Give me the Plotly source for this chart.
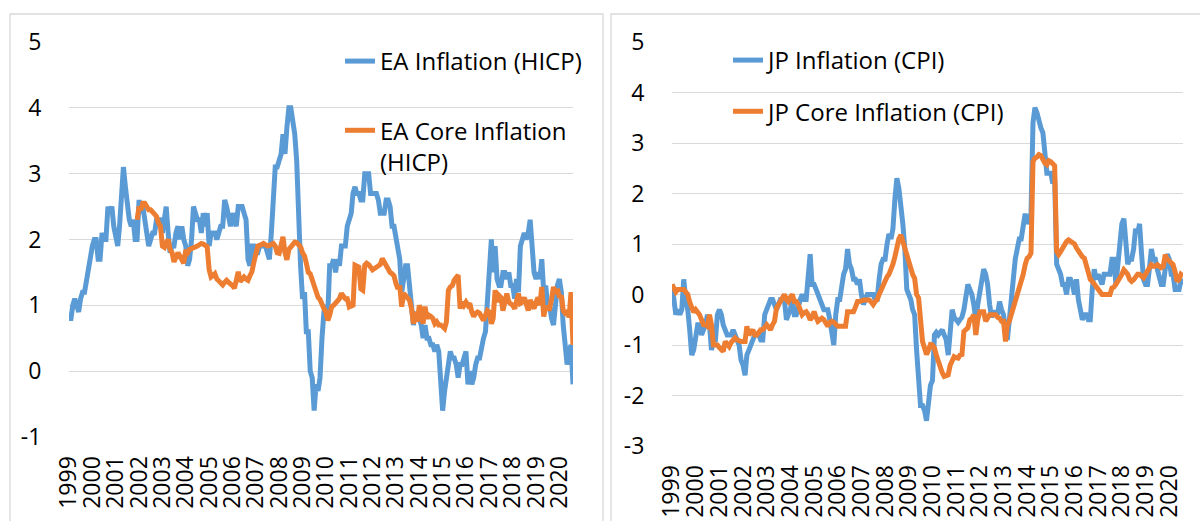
import pandas as pd
import plotly.graph_objects as go

# ---------------- data (monthly, Jan 1999 - Aug 2020) ----------------
years = [str(y) for y in range(1999, 2021)]

ea_hicp = [
    0.8, 0.8, 1.0, 1.1, 1.0, 0.9, 1.1, 1.2, 1.2, 1.4, 1.5, 1.7,          # 1999
    1.9, 2.0, 2.0, 1.7, 1.7, 2.1, 2.0, 2.0, 2.5, 2.4, 2.5, 2.2,          # 2000
    2.0, 1.9, 2.2, 2.7, 3.1, 2.8, 2.5, 2.3, 2.2, 2.3, 2.0, 2.0,          # 2001
    2.6, 2.4, 2.5, 2.3, 2.0, 1.9, 2.0, 2.1, 2.1, 2.3, 2.3, 2.3,          # 2002
    2.1, 2.4, 2.5, 2.1, 1.8, 1.9, 1.9, 2.1, 2.2, 2.0, 2.2, 2.0,          # 2003
    1.9, 1.6, 1.7, 2.0, 2.5, 2.4, 2.3, 2.3, 2.1, 2.4, 2.2, 2.4,          # 2004
    1.9, 2.1, 2.1, 2.1, 2.0, 2.1, 2.2, 2.2, 2.6, 2.5, 2.3, 2.2,          # 2005
    2.4, 2.3, 2.2, 2.5, 2.5, 2.5, 2.4, 2.3, 1.7, 1.6, 1.9, 1.9,          # 2006
    1.8, 1.8, 1.9, 1.9, 1.9, 1.9, 1.8, 1.7, 2.1, 2.6, 3.1, 3.1,          # 2007
    3.2, 3.3, 3.6, 3.3, 3.7, 4.0, 4.0, 3.8, 3.6, 3.2, 2.1, 1.6,          # 2008
    1.1, 1.2, 0.6, 0.6, 0.0, -0.1, -0.6, -0.2, -0.3, -0.1, 0.5, 0.9,     # 2009
    1.0, 0.9, 1.6, 1.6, 1.7, 1.5, 1.7, 1.6, 1.9, 1.9, 1.9, 2.2,          # 2010
    2.3, 2.4, 2.7, 2.8, 2.7, 2.7, 2.6, 2.6, 3.0, 3.0, 3.0, 2.7,          # 2011
    2.7, 2.7, 2.7, 2.6, 2.4, 2.4, 2.4, 2.6, 2.6, 2.5, 2.2, 2.2,          # 2012
    2.0, 1.8, 1.7, 1.2, 1.4, 1.6, 1.6, 1.3, 1.1, 0.7, 0.9, 0.8,          # 2013
    0.8, 0.7, 0.5, 0.7, 0.5, 0.5, 0.4, 0.4, 0.3, 0.4, 0.3, -0.2,         # 2014
    -0.6, -0.3, -0.1, 0.0, 0.3, 0.2, 0.2, 0.1, -0.1, 0.1, 0.1, 0.2,      # 2015
    0.3, -0.2, 0.0, -0.2, -0.1, 0.1, 0.2, 0.2, 0.4, 0.5, 0.6, 1.1,       # 2016
    1.7, 2.0, 1.5, 1.9, 1.4, 1.3, 1.3, 1.5, 1.5, 1.4, 1.5, 1.3,          # 2017
    1.3, 1.1, 1.4, 1.2, 1.9, 2.0, 2.1, 2.0, 2.1, 2.3, 1.9, 1.5,          # 2018
    1.4, 1.5, 1.4, 1.7, 1.2, 1.3, 1.0, 1.0, 0.8, 0.7, 1.0, 1.3,          # 2019
    1.4, 1.2, 0.7, 0.3, 0.1, 0.3, 0.4, -0.2,                             # 2020
]

# EA core starts Dec 2001
ea_core_start = "2001-12-01"
ea_core = [
    2.3,                                                                  # Dec 2001
    2.5, 2.45, 2.55, 2.55, 2.5, 2.45, 2.45, 2.42, 2.4, 2.35, 2.25, 2.2,  # 2002
    1.9, 1.88, 1.95, 2.0, 1.85, 1.8, 1.66, 1.75, 1.8, 1.75, 1.7, 1.64,   # 2003
    1.84, 1.8, 1.85, 1.86, 1.87, 1.88, 1.9, 1.92, 1.94, 1.93, 1.9, 1.89, # 2004
    1.54, 1.43, 1.45, 1.48, 1.4, 1.36, 1.32, 1.31, 1.35, 1.38, 1.35, 1.33,  # 2005
    1.3, 1.26, 1.4, 1.51, 1.36, 1.4, 1.43, 1.4, 1.38, 1.45, 1.51, 1.65,  # 2006
    1.79, 1.9, 1.91, 1.92, 1.94, 1.92, 1.9, 1.91, 1.92, 1.94, 1.9, 1.8,  # 2007
    1.79, 1.9, 2.04, 1.8, 1.69, 1.85, 1.89, 1.92, 1.96, 1.95, 1.92, 1.89,  # 2008
    1.8, 1.75, 1.64, 1.5, 1.48, 1.38, 1.3, 1.24, 1.12, 1.09, 1.0, 0.95,  # 2009
    0.9, 0.77, 0.85, 0.98, 1.0, 1.03, 1.05, 1.1, 1.18, 1.15, 1.1, 1.1,   # 2010
    0.98, 1.0, 0.98, 1.61, 1.6, 1.58, 1.25, 1.23, 1.61, 1.64, 1.62, 1.58,  # 2011
    1.54, 1.56, 1.58, 1.6, 1.62, 1.71, 1.65, 1.6, 1.54, 1.5, 1.48, 1.45,  # 2012
    1.33, 1.25, 1.3, 0.98, 1.18, 1.15, 1.1, 1.08, 0.95, 0.72, 0.9, 0.75,  # 2013
    1.0, 0.9, 0.72, 0.98, 0.8, 0.85, 0.83, 0.8, 0.72, 0.75, 0.7, 0.7,    # 2014
    0.68, 0.65, 0.75, 1.23, 1.28, 1.3, 1.38, 1.42, 1.46, 0.95, 1.05, 1.0,  # 2015
    1.05, 1.0, 1.03, 0.9, 0.83, 0.88, 0.9, 0.88, 0.8, 0.77, 0.85, 0.92,  # 2016
    0.9, 0.72, 0.8, 1.23, 1.05, 1.15, 1.12, 0.92, 1.05, 1.18, 1.05, 1.03,  # 2017
    1.0, 0.95, 1.05, 1.18, 1.03, 1.05, 1.12, 1.0, 0.92, 1.08, 1.0, 0.95,  # 2018
    1.05, 1.12, 1.0, 1.28, 0.83, 0.98, 0.95, 0.95, 1.1, 1.28, 1.18, 1.25,  # 2019
    1.12, 1.15, 0.92, 0.88, 0.9, 0.82, 1.2, 0.4,                         # 2020
]

jp_cpi = [
    0.2, -0.1, -0.4, -0.3, -0.4, -0.3, 0.3, -0.1, -0.3, -0.7, -1.2, -1.1,   # 1999
    -0.9, -0.6, -0.6, -0.8, -0.7, -0.6, -0.4, -0.6, -1.1, -0.9, -0.9, -0.4, # 2000
    -0.3, -0.4, -0.6, -0.7, -0.8, -0.8, -0.8, -0.7, -0.8, -0.9, -1.0, -1.3, # 2001
    -1.4, -1.6, -1.2, -1.1, -1.0, -0.9, -0.8, -0.8, -0.8, -0.9, -0.9, -0.4, # 2002
    -0.3, -0.2, -0.1, -0.1, -0.2, -0.3, -0.2, -0.1, -0.1, -0.1, -0.5, -0.4, # 2003
    -0.3, -0.1, -0.4, -0.4, -0.2, -0.1, 0.0, -0.1, -0.1, 0.5, 0.8, 0.2,     # 2004
    0.2, 0.1, 0.0, -0.1, -0.2, -0.3, -0.3, -0.3, -0.5, -0.7, -1.0, -0.4,    # 2005
    -0.1, -0.1, 0.2, 0.4, 0.5, 0.9, 0.6, 0.5, 0.3, 0.3, 0.2, 0.3,           # 2006
    0.0, -0.2, -0.1, 0.0, 0.0, 0.0, 0.0, -0.1, -0.1, 0.3, 0.6, 0.7,         # 2007
    0.7, 1.0, 1.2, 1.1, 1.3, 1.9, 2.3, 2.1, 1.8, 1.4, 0.9, 0.1,             # 2008
    0.0, -0.1, -0.3, -0.4, -1.1, -1.8, -2.2, -2.2, -2.3, -2.5, -2.0, -1.8,  # 2009
    -1.7, -0.8, -0.75, -0.8, -0.75, -0.7, -0.8, -0.9, -1.2, -0.6, -0.3, -0.45,  # 2010
    -0.5, -0.55, -0.5, -0.45, -0.3, 0.0, 0.2, 0.1, 0.0, -0.2, -0.5, -0.2,   # 2011
    0.0, 0.3, 0.5, 0.4, 0.2, -0.2, -0.45, -0.35, -0.35, -0.4, -0.14, -0.3,  # 2012
    -0.4, -0.7, -0.9, -0.5, 0.0, 0.5, 0.7, 0.9, 1.1, 1.1, 1.4, 1.6,         # 2013
    1.4, 1.5, 1.6, 3.4, 3.7, 3.6, 3.4, 3.3, 3.2, 2.9, 2.4, 2.4,             # 2014
    2.4, 2.2, 2.3, 0.6, 0.5, 0.4, 0.2, 0.2, 0.0, 0.3, 0.3, 0.2,             # 2015
    0.0, 0.3, -0.1, -0.3, -0.5, -0.4, -0.4, -0.5, -0.5, 0.1, 0.5, 0.3,      # 2016
    0.4, 0.3, 0.2, 0.4, 0.4, 0.4, 0.4, 0.7, 0.7, 0.2, 0.6, 1.0,             # 2017
    1.4, 1.5, 1.1, 0.6, 0.7, 0.7, 0.9, 1.3, 1.2, 1.4, 0.8, 0.3,             # 2018
    0.2, 0.2, 0.5, 0.9, 0.7, 0.7, 0.5, 0.3, 0.2, 0.2, 0.5, 0.8,             # 2019
    0.7, 0.4, 0.4, 0.1, 0.1, 0.1, 0.3, 0.2,                                 # 2020
]

jp_core = [
    0.2, 0.1, 0.05, 0.1, 0.1, 0.1, 0.1, 0.05, 0.0, -0.15, -0.3, -0.35,      # 1999
    -0.3, -0.35, -0.4, -0.5, -0.6, -0.6, -0.63, -0.4, -0.6, -1.0, -1.0, -1.0,  # 2000
    -1.05, -1.1, -1.13, -0.93, -1.0, -1.03, -0.95, -0.9, -0.86, -0.9, -0.93, -0.93,  # 2001
    -0.93, -0.93, -0.63, -0.8, -0.75, -0.7, -0.8, -0.8, -0.75, -0.7, -0.7, -0.65,  # 2002
    -0.6, -0.65, -0.7, -0.6, -0.53, -0.27, -0.2, -0.14, -0.05, 0.0, -0.1, -0.14,  # 2003
    -0.05, 0.0, -0.14, -0.14, -0.2, -0.3, -0.4, -0.36, -0.34, -0.4, -0.5, -0.45,  # 2004
    -0.34, -0.45, -0.53, -0.5, -0.47, -0.5, -0.55, -0.63, -0.55, -0.53, -0.55, -0.6,  # 2005
    -0.63, -0.63, -0.63, -0.63, -0.63, -0.34, -0.34, -0.34, -0.34, -0.25, -0.14, -0.14,  # 2006
    -0.12, -0.11, -0.11, -0.11, -0.11, -0.15, -0.2, -0.14, -0.1, 0.0, 0.09, 0.2,  # 2007
    0.3, 0.35, 0.4, 0.49, 0.6, 0.75, 0.99, 1.1, 1.18, 1.05, 0.9, 0.72,      # 2008
    0.6, 0.53, 0.4, 0.32, 0.0, -0.07, -0.5, -0.93, -1.06, -1.19, -1.1, -0.99,  # 2009
    -1.0, -1.06, -1.2, -1.33, -1.46, -1.55, -1.62, -1.6, -1.59, -1.4, -1.29, -1.23,  # 2010
    -1.25, -1.26, -1.2, -1.19, -0.73, -0.7, -0.66, -0.5, -0.47, -0.4, -0.8, -0.5,  # 2011
    -0.34, -0.34, -0.34, -0.53, -0.45, -0.4, -0.4, -0.4, -0.4, -0.45, -0.47, -0.53,  # 2012
    -0.53, -0.93, -0.6, -0.53, -0.4, -0.27, -0.2, -0.07, 0.1, 0.2, 0.4, 0.59,  # 2013
    0.72, 0.75, 0.82, 2.63, 2.7, 2.72, 2.77, 2.75, 2.67, 2.6, 2.57, 2.65,   # 2014
    2.63, 2.6, 2.55, 0.85, 0.79, 0.85, 0.92, 1.0, 1.05, 1.08, 1.05, 1.05,   # 2015
    1.0, 0.92, 0.85, 0.79, 0.75, 0.72, 0.6, 0.4, 0.3, 0.26, 0.2, 0.15,      # 2016
    0.09, 0.05, 0.0, 0.0, 0.0, 0.0, 0.0, 0.13, 0.15, 0.2, 0.25, 0.33,       # 2017
    0.4, 0.49, 0.45, 0.4, 0.3, 0.26, 0.29, 0.35, 0.4, 0.4, 0.35, 0.33,      # 2018
    0.4, 0.46, 0.55, 0.59, 0.56, 0.56, 0.59, 0.56, 0.53, 0.55, 0.79, 0.7,   # 2019
    0.66, 0.6, 0.59, 0.45, 0.26, 0.3, 0.4, 0.37,                            # 2020
]

series_names = ["EA Inflation (HICP)", "EA Core Inflation<br>(HICP)",
                "JP Inflation (CPI)", "JP Core Inflation (CPI)"]
ea_yticks = [-1, 0, 1, 2, 3, 4, 5]
jp_yticks = [-3, -2, -1, 0, 1, 2, 3, 4, 5]

# ---------------- styling ----------------
BLUE = "#5B9BD5"
ORANGE = "#ED7D31"
GRID = "#D9D9D9"
FONT = "Open Sans"
W, H = 1200, 521
LW = 5

dates = pd.date_range("1999-01-01", periods=len(ea_hicp), freq="MS")
core_dates = pd.date_range(ea_core_start, periods=len(ea_core), freq="MS")
jp_dates = pd.date_range("1999-01-01", periods=len(jp_cpi), freq="MS")
tickvals = pd.to_datetime([f"{y}-01-01" for y in years])
xrange_ = [dates[0], dates[-1]]

fig = go.Figure()
fig.add_trace(go.Scatter(x=dates, y=ea_hicp, name=series_names[0], mode="lines",
                         line=dict(color=BLUE, width=LW), xaxis="x", yaxis="y",
                         legend="legend", legendgroup="a"))
fig.add_trace(go.Scatter(x=core_dates, y=ea_core, name=series_names[1], mode="lines",
                         line=dict(color=ORANGE, width=LW), xaxis="x", yaxis="y",
                         legend="legend", legendgroup="b"))
fig.add_trace(go.Scatter(x=jp_dates, y=jp_cpi, name=series_names[2], mode="lines",
                         line=dict(color=BLUE, width=LW), xaxis="x2", yaxis="y2",
                         legend="legend2", legendgroup="c"))
fig.add_trace(go.Scatter(x=jp_dates, y=jp_core, name=series_names[3], mode="lines",
                         line=dict(color=ORANGE, width=LW), xaxis="x2", yaxis="y2",
                         legend="legend2", legendgroup="d"))

left_dom = [69 / W, 573 / W]
right_dom = [672 / W, 1183 / W]
left_ydom = [1 - 437 / H, 1 - 42 / H]
right_ydom = [1 - 446 / H, 1 - 42 / H]
left_yr = [-1, 5]
right_yr = [-3, 5]
zero_left = left_ydom[0] + (0 - left_yr[0]) / (left_yr[1] - left_yr[0]) * (left_ydom[1] - left_ydom[0])
zero_right = right_ydom[0] + (0 - right_yr[0]) / (right_yr[1] - right_yr[0]) * (right_ydom[1] - right_ydom[0])

tickfont = dict(family=FONT, size=23, color="#000000")

label_axis = dict(type="date", range=xrange_, tickvals=tickvals, ticktext=years,
                  tickangle=-90, tickfont=tickfont, showgrid=False, zeroline=False,
                  showline=False, ticks="outside", ticklen=9, tickcolor="rgba(0,0,0,0)",
                  automargin=False, fixedrange=True)
tick_axis = dict(type="date", range=xrange_, tickvals=tickvals, showticklabels=False,
                 showgrid=False, zeroline=False, showline=True, linecolor=GRID, linewidth=1.3,
                 ticks="outside", ticklen=7, tickwidth=1.5, tickcolor=GRID, anchor="free",
                 automargin=False, fixedrange=True)
yax = dict(showgrid=True, gridcolor=GRID, gridwidth=1.3, zeroline=False,
           showline=False, tickfont=tickfont, ticks="outside", ticklen=22,
           tickcolor="rgba(0,0,0,0)", automargin=False, fixedrange=True)

fig.update_layout(
    width=W, height=H, autosize=False,
    margin=dict(l=0, r=0, t=0, b=0, autoexpand=False),
    paper_bgcolor="white", plot_bgcolor="white",
    font=dict(family=FONT, color="#000000"),
    xaxis=dict(domain=left_dom, anchor="y", **label_axis),
    yaxis=dict(domain=left_ydom, anchor="x", range=left_yr, tickvals=ea_yticks,
               ticktext=[str(v) for v in ea_yticks], **yax),
    xaxis2=dict(domain=right_dom, anchor="y2", **label_axis),
    yaxis2=dict(domain=right_ydom, anchor="x2", range=right_yr, tickvals=jp_yticks,
                ticktext=[str(v) for v in jp_yticks], **yax),
    xaxis3=dict(domain=left_dom, overlaying="x", position=zero_left, **tick_axis),
    xaxis4=dict(domain=right_dom, overlaying="x2", position=zero_right, **tick_axis),
    legend=dict(x=340 / W, y=1 - 39 / H, xanchor="left", yanchor="top",
                font=dict(family=FONT, size=24, color="#000000"),
                bgcolor="rgba(0,0,0,0)", tracegroupgap=35, valign="top"),
    legend2=dict(x=728 / W, y=1 - 38 / H, xanchor="left", yanchor="top",
                 font=dict(family=FONT, size=24, color="#000000"),
                 bgcolor="rgba(0,0,0,0)", tracegroupgap=17, valign="top"),
    showlegend=True,
    shapes=[
        dict(type="rect", xref="paper", yref="paper", x0=10 / W, x1=603 / W,
             y0=-0.05, y1=1 - 14 / H, line=dict(color=GRID, width=1.3), layer="below"),
        dict(type="rect", xref="paper", yref="paper", x0=611 / W, x1=1.05,
             y0=-0.05, y1=1 - 14 / H, line=dict(color=GRID, width=1.3), layer="below"),
    ],
)

fig.write_html(
    "out.html",
    config={"displayModeBar": False},
    post_script="document.body.style.margin='0';document.body.style.overflow='hidden';",
)
